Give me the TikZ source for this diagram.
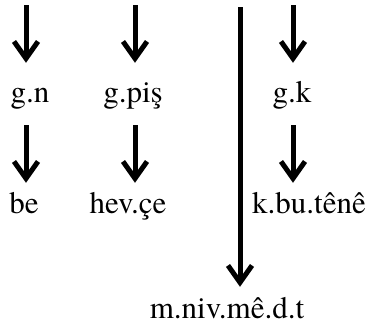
\documentclass[tikz,border=0pt]{standalone}
\usepackage{fontspec}
\setmainfont{texgyretermes-regular.otf}
\usetikzlibrary{arrows.meta}

\begin{document}
\begin{tikzpicture}[x=1pt,y=-1pt,
		pfeil/.style={line width=5pt,-{Straight Barb[length=17pt,width=24pt]}},
		wort/.style={font=\fontsize{31}{36}\selectfont,inner sep=0pt,
			text height=22pt,text depth=8pt,anchor=base}]
		\useasboundingbox (0,0) rectangle (372,325);
		
		% Woerter, obere Zeile
		\node[wort] (gn) at (30,102) {g.n};
		\node[wort] (gpis) at (133,102) {g.piş};
		\node[wort] (gk) at (292,102) {g.k};
		
		% Woerter, mittlere Zeile
		\node[wort] (be) at (24,213) {be};
		\node[wort] (hevce) at (128,213) {hev.çe};
		\node[wort] (kbu) at (309,213) {k.bu.tênê};
		
		% Wort unten (ohne Unterlaenge)
		\node[wort,text depth=0pt] (mniv) at (227,318) {m.niv.mê.d.t};
		
		% Anfangspunkte der Pfeile
		\coordinate (a1) at (26,5);
		\coordinate (a2) at (135,5);
		\coordinate (a3) at (240,7);
		\coordinate (a4) at (293,5);
		
		% Pfeile oben
		\draw[pfeil,shorten >=17pt] (a1) -- (a1 |- gn.north);
		\draw[pfeil,shorten >=17pt] (a2) -- (a2 |- gpis.north);
		\draw[pfeil,shorten >=17pt] (a4) -- (a4 |- gk.north);
		
		% Pfeile zwischen den Zeilen
		\draw[pfeil,shorten <=15pt,shorten >=8pt] (a1 |- gn.south) -- (a1 |- be.north);
		\draw[pfeil,shorten <=15pt,shorten >=8pt] (a2 |- gpis.south) -- (a2 |- hevce.north);
		\draw[pfeil,shorten <=15pt,shorten >=8pt] (a4 |- gk.south) -- (a4 |- kbu.north);
		
		% langer Pfeil
		\draw[pfeil,shorten >=9pt] (a3) -- (a3 |- mniv.north);
		
	\end{tikzpicture}
\end{document}
